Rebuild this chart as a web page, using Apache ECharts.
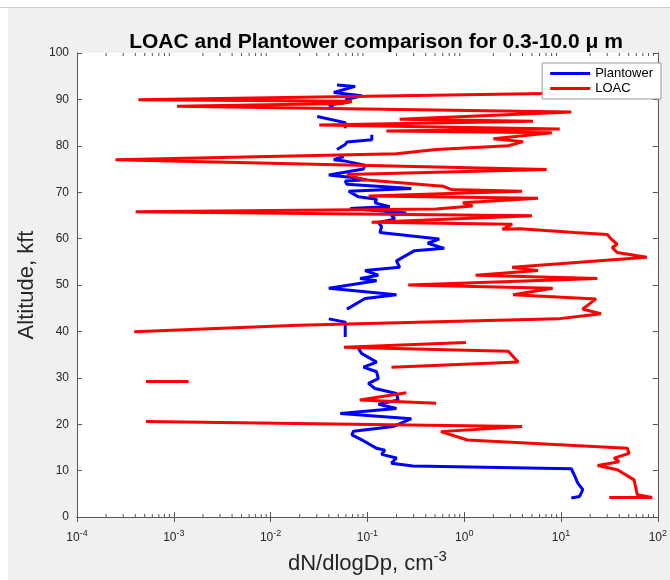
<!DOCTYPE html>
<html>
<head>
<meta charset="utf-8">
<script src="https://cdn.jsdelivr.net/npm/echarts@6/dist/echarts.min.js"></script>
<style>html,body{margin:0;padding:0;background:#f0f0f0}#c{width:670px;height:580px}</style>
</head>
<body>
<div id="c"></div>
<script>
// Plantower (blue) profile: altitude (kft) and concentration (dN/dlogDp, cm^-3); null = gap
const plantowerAlt = [93.1, 92.8, 91.5, 90.8, 89.9, 89.5, 88.8, 88.5, null, 86.3, 85.0, 83.8, null, 82.4, 81.3, 80.8, 80.3, 79.2, null, 77.7, 77.0, 76.7, 75.8, 75.0, 73.7, 73.3, 72.7, 72.4, 71.7, 70.8, 70.2, 69.0, 68.5, 67.7, 66.9, 66.5, 65.5, 65.0, 64.2, 63.5, 62.6, 61.3, 59.9, 59.0, 57.9, 57.4, 55.2, 53.8, 53.1, 52.1, 51.4, 50.9, 49.3, 47.9, 47.1, 44.8, null, 42.7, 42.0, 38.8, null, 36.3, 35.2, 33.4, 32.3, 31.3, 29.8, 28.8, 27.7, 26.6, 25.2, 24.3, 23.4, 22.3, 21.2, 19.5, 18.5, 17.7, 16.5, 14.8, 14.4, 13.5, 12.7, 11.6, 11.0, 10.4, 8.9, 7.3, 5.9, 4.4, 4.1];
const plantowerConc = [0.0485, 0.0747, 0.0449, 0.0875, 0.059, 0.0664, 0.0399, 0.0449, null, 0.0303, 0.059, 0.059, null, 0.111, 0.111, 0.0614, 0.059, 0.0485, null, 0.0569, 0.0449, 0.059, 0.0945, 0.091, 0.0399, 0.0614, 0.0984, 0.059, 0.0614, 0.284, 0.064, 0.0809, 0.1245, 0.1197, 0.170, 0.0664, 0.252, 0.177, 0.1915, 0.1295, 0.14, 0.1346, 0.552, 0.42, 0.621, 0.307, 0.1995, 0.2154, 0.0945, 0.1295, 0.084, 0.1245, 0.0399, 0.1995, 0.0945, 0.0614, null, 0.0399, 0.059, 0.059, null, 0.0809, 0.0875, 0.1245, 0.091, 0.1245, 0.1295, 0.1023, 0.1197, 0.1995, 0.2075, 0.13, 0.1995, 0.0525, 0.2838, 0.1845, 0.0719, 0.069, 0.09, 0.1245, 0.1514, 0.14, 0.1995, 0.177, 0.295, 12.77, 13.8, 14.9, 16.8, 15.5, 12.77];

// LOAC (red) profile
const loacAlt = [91.6, 89.9, 89.6, 89.1, 88.5, 87.3, 85.7, 85.3, 84.5, 83.6, 83.2, 82.8, 81.5, 80.9, 80.0, 79.2, 78.3, 77.0, 74.9, 73.8, 72.7, 71.3, 70.6, 70.2, 69.2, 68.7, 67.7, 67.0, 66.4, 65.8, 64.9, 63.5, 63.1, 62.0, 62.1, 61.3, 60.9, 59.9, 58.8, 58.1, 57.0, 56.0, 53.8, 53.1, 52.1, 51.4, 50.0, 49.3, 47.9, 47.0, 44.8, 43.8, 42.7, 41.3, 39.9, null, 37.6, 36.6, 35.7, 33.4, 32.3, null, 29.2, 29.2, null, 26.8, 25.2, 24.5, null, 20.6, 19.5, 18.4, 16.6, 14.8, 13.7, 12.7, 11.9, 11.1, 10.2, 8.0, 4.8, 4.2, 4.2];
const loacConc = [71.8, 0.00043, 0.069, 0.0546, 0.00108, 12.77, 0.215, 5.14, 0.0318, 9.7, 0.157, 8.03, 2.0, 4.06, 2.85, 0.512, 0.1995, 0.00025, 7.1, 0.0614, 0.0916, 0.603, 0.728, 3.96, 0.103, 5.78, 0.966, 1.22, 0.512, 0.000404, 5.01, 0.1107, 3.13, 2.48, 3.78, 13.8, 30.0, 33.0, 38.0, 33.8, 38.0, 76.9, 3.13, 5.78, 1.31, 23.7, 0.264, 8.2, 3.2, 23.0, 16.7, 25.9, 9.25, 0.0189, 0.00039, null, 1.04, 0.0573, 2.85, 3.61, 0.177, null, 0.000516, 0.00142, null, 0.252, 0.0834, 0.512, null, 0.000516, 3.96, 0.575, 1.08, 48.4, 50.4, 35.4, 39.8, 23.9, 38.3, 56.8, 61.3, 87.3, 31.5];

// Axis settings
const xMin = 1e-4, xMax = 1e2;
const yMin = 0, yMax = 100, yStep = 10;
const minorFactors = [2, 3, 4, 5, 6, 7, 8, 9];
const minorDecades = [1e-4, 1e-3, 1e-2, 1e-1, 1, 10];

const minorTickValues = [];
minorDecades.forEach(d => minorFactors.forEach(f => minorTickValues.push([f * d, yMin])));

function toPairs(xs, ys) {
  return xs.map((x, i) => (x === null || ys[i] === null) ? ['-', '-'] : [x, ys[i]]);
}

const axisColor = '#555';
const labelColor = '#262626';
const font = 'Liberation Sans, Arial, Helvetica, sans-serif';

function expLabel(v) {
  const e = Math.round(Math.log10(v));
  return '{b|10}{s|' + e + '}';
}

const chart = echarts.init(document.getElementById('c'), null, {renderer: 'canvas'});
chart.setOption({
  backgroundColor: '#f0f0f0',
  animation: false,
  textStyle: {fontFamily: font},
  graphic: [
    {type: 'rect', shape: {x: 0, y: 0, width: 670, height: 7}, style: {fill: '#ffffff'}, z: -10},
    {type: 'line', shape: {x1: 0, y1: 7.5, x2: 670, y2: 7.5}, style: {stroke: '#cfcfcf', lineWidth: 1}, z: -9},
    {type: 'rect', shape: {x: 0, y: 7, width: 8, height: 573}, style: {fill: '#ffffff'}, z: -10}
  ],
  title: {
    text: 'LOAC and Plantower comparison for 0.3-10.0 \u03bc m',
    left: 371, top: 27, textAlign: 'center',
    textStyle: {fontSize: 21, fontWeight: 'bold', color: '#000', fontFamily: font}
  },
  legend: {
    data: ['Plantower', 'LOAC'],
    orient: 'vertical', right: 9, top: 63, z: 20,
    icon: 'rect', itemWidth: 40, itemHeight: 3, itemGap: 2,
    padding: [4, 8, 4, 8],
    backgroundColor: '#fff', borderColor: '#9a9a9a', borderWidth: 1,
    textStyle: {fontSize: 13, color: '#000', fontFamily: font}
  },
  grid: {left: 77, right: 5.5, top: 53, bottom: 61, show: true, backgroundColor: '#fff', borderWidth: 0},
  xAxis: [
    {
      type: 'log', logBase: 10, min: xMin, max: xMax, position: 'bottom',
      axisLine: {show: true, lineStyle: {color: axisColor, width: 1}},
      axisTick: {show: true, inside: true, length: 5, lineStyle: {color: axisColor}},
      splitLine: {show: false},
      axisLabel: {
        margin: 12, color: labelColor,
        formatter: expLabel,
        rich: {
          b: {fontSize: 12, color: labelColor, verticalAlign: 'bottom', fontFamily: font},
          s: {fontSize: 9, color: labelColor, verticalAlign: 'bottom', padding: [0, 0, 6, 0], fontFamily: font}
        }
      },
      name: '{n|dN/dlogDp, cm}{e|-3}',
      nameLocation: 'middle', nameGap: 32,
      nameTextStyle: {
        rich: {
          n: {fontSize: 22, color: '#262626', verticalAlign: 'bottom', fontFamily: font},
          e: {fontSize: 15, color: '#262626', verticalAlign: 'bottom', padding: [0, 0, 11, 0], fontFamily: font}
        }
      }
    },
    {
      type: 'log', logBase: 10, min: xMin, max: xMax, position: 'top',
      axisLine: {show: true, lineStyle: {color: axisColor, width: 1}},
      axisTick: {show: true, inside: true, length: 5, lineStyle: {color: axisColor}},
      axisLabel: {show: false}, splitLine: {show: false}
    }
  ],
  yAxis: [
    {
      type: 'value', min: yMin, max: yMax, interval: yStep, position: 'left',
      axisLine: {show: true, lineStyle: {color: axisColor, width: 1}},
      axisTick: {show: true, inside: true, length: 5, lineStyle: {color: axisColor}},
      splitLine: {show: false},
      axisLabel: {margin: 8, fontSize: 12, color: labelColor, fontFamily: font},
      name: 'Altitude, kft', nameLocation: 'middle', nameGap: 32,
      nameTextStyle: {fontSize: 22, color: '#262626', fontFamily: font}
    },
    {
      type: 'value', min: yMin, max: yMax, interval: yStep, position: 'right',
      axisLine: {show: true, lineStyle: {color: axisColor, width: 1}},
      axisTick: {show: true, inside: true, length: 5, lineStyle: {color: axisColor}},
      axisLabel: {show: false}, splitLine: {show: false}
    }
  ],
  series: [
    {
      type: 'custom', name: 'minorTicks', silent: true, xAxisIndex: 0, yAxisIndex: 0,
      data: minorTickValues, encode: {x: 0, y: 1}, z: 1,
      renderItem: function (params, api) {
        const v = api.value(0);
        const b = api.coord([v, yMin]);
        const t = api.coord([v, yMax]);
        const st = {stroke: axisColor, lineWidth: 1};
        return {
          type: 'group',
          children: [
            {type: 'line', shape: {x1: b[0], y1: b[1], x2: b[0], y2: b[1] - 3}, style: st},
            {type: 'line', shape: {x1: t[0], y1: t[1], x2: t[0], y2: t[1] + 3}, style: st}
          ]
        };
      }
    },
    {
      name: 'Plantower', type: 'line', xAxisIndex: 0, yAxisIndex: 0,
      data: toPairs(plantowerConc, plantowerAlt),
      showSymbol: false, symbol: 'none', connectNulls: false,
      lineStyle: {color: '#0000ff', width: 3}, itemStyle: {color: '#0000ff'}, z: 3
    },
    {
      name: 'LOAC', type: 'line', xAxisIndex: 0, yAxisIndex: 0,
      data: toPairs(loacConc, loacAlt),
      showSymbol: false, symbol: 'none', connectNulls: false,
      lineStyle: {color: '#ff0000', width: 3}, itemStyle: {color: '#ff0000'}, z: 4
    }
  ]
});
</script>
</body>
</html>
